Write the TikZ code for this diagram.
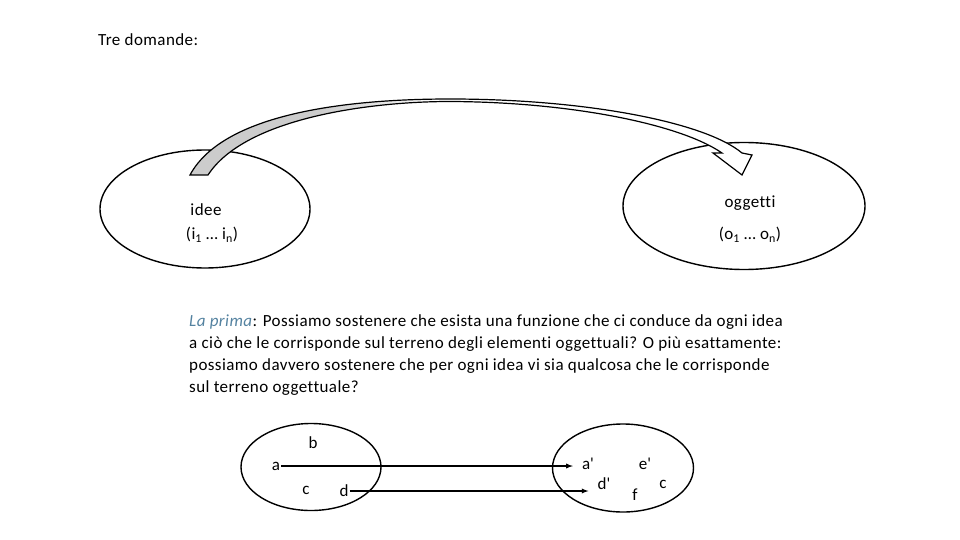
\documentclass[tikz,border=0pt]{standalone}
\usepackage{fontspec}
\setmainfont{Carlito}[LetterSpace=2.5, Ligatures=NoCommon]
\usetikzlibrary{shapes.geometric}

\definecolor{primablue}{RGB}{84,130,160}

\tikzset{
  setshape/.style={draw, ellipse, line width=1.4pt, inner sep=0pt},
  lbl/.style={inner sep=1pt, font=\fontsize{17}{22}\selectfont},
  map/.style={-latex, line width=1.3pt},
}

\begin{document}
\begin{tikzpicture}[x=1pt, y=-1pt]
    \useasboundingbox (0, 0) rectangle (960, 540);

    \node[lbl, anchor=west] (title) at (97, 40) {Tre domande:};

    % the two big sets
    \node[setshape, minimum width=210, minimum height=118] (ideeset) at (205, 209) {};
    \node[setshape, minimum width=242, minimum height=127] (oggettiset) at (744, 206) {};

    \node[lbl] (idee) at (206, 210) {idee};
    \node[lbl] (ilist) at (212, 235) {(i\textsubscript{1} … i\textsubscript{n})};
    \node[lbl] (oggetti) at (750, 203) {oggetti};
    \node[lbl] (olist) at (750, 235) {(o\textsubscript{1} … o\textsubscript{n})};

    % the bent block arrow
    \def\bendpath{(190,175) .. controls (225,110) and (360,99) .. (450,99)
      .. controls (585,99) and (705,122) .. (742,153) -- (752,155) -- (742,175)
      -- (713,153) -- (722,153) .. controls (680,124) and (570,102) .. (450,101.5)
      .. controls (370,101.5) and (245,118) .. (208,175) -- cycle}
    \begin{scope}
      \clip \bendpath;
      \fill[white] (180, 90) rectangle (760, 180);
      \fill[gray!40] (180, 90) rectangle (320, 180);
      \shade[left color=gray!40, right color=white] (320, 90) rectangle (440, 180);
    \end{scope}
    \draw[line width=1.2pt, line join=miter] \bendpath;

    \node[lbl, anchor=north west, align=left] (prima) at (188, 313) {%
      \textcolor{primablue}{\textit{La prima}}: Possiamo sostenere che esista una funzione che ci conduce da ogni idea\\
      a ciò che le corrisponde sul terreno degli elementi oggettuali? O più esattamente:\\
      possiamo davvero sostenere che per ogni idea vi sia qualcosa che le corrisponde\\
      sul terreno oggettuale?};

    % the two small sets
    \node[setshape, minimum width=140, minimum height=87] (leftset) at (311, 467) {};
    \node[setshape, minimum width=141, minimum height=88] (rightset) at (623, 468) {};

    \node[lbl] (b) at (313, 443) {b};
    \node[lbl] (a) at (276, 466) {a};
    \node[lbl] (c) at (306, 490) {c};
    \node[lbl] (d) at (344, 491) {d};

    \node[lbl] (ap) at (588, 464) {a\textquotesingle};
    \node[lbl] (ep) at (645, 464) {e\textquotesingle};
    \node[lbl] (dp) at (604, 484) {d\textquotesingle};
    \node[lbl] (f) at (635, 495) {f};
    \node[lbl] (cp) at (663, 484) {c};

    \draw[map, shorten >=8pt] (a.east) -- (a.east -| ap.west);
    \draw[map, shorten >=8pt] (d.east) -- (d.east -| dp.west);
  \end{tikzpicture}
\end{document}
